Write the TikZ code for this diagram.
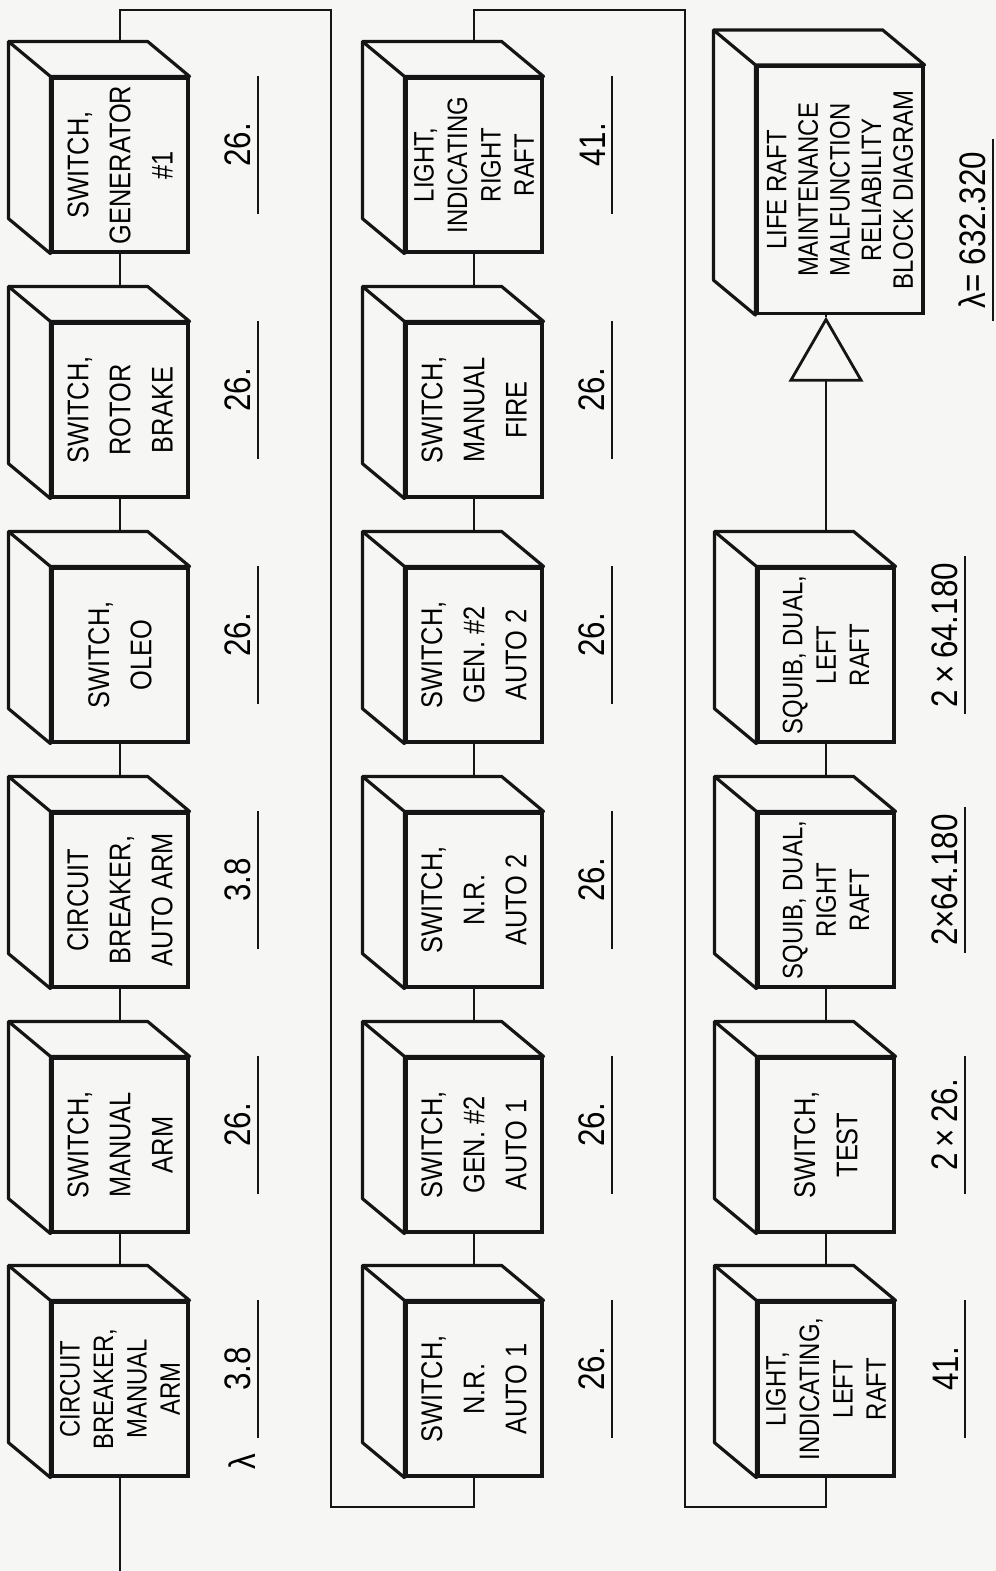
\documentclass[tikz,border=0pt]{standalone}
\usepackage{fontspec}
\setmainfont{Liberation Sans}[FakeStretch=0.85]
\usepackage{tikz}
\usetikzlibrary{calc,backgrounds,shapes.geometric}
\definecolor{paper}{HTML}{F6F6F4}
\definecolor{ink}{HTML}{151515}

\begin{document}
\begin{tikzpicture}[x=0.1mm,y=-0.1mm,
  font=\fontsize{8.5}{12}\selectfont,
  blk/.style={draw=ink,line width=0.9pt,fill=paper,rotate=90,align=center,
    minimum width=17.4mm,minimum height=13.6mm,inner sep=0.5mm},
  tight/.style={font=\fontsize{8}{9.5}\selectfont},
  side/.style={draw=ink,line width=0.9pt,fill=paper,line join=round},
  gate/.style={draw=ink,line width=0.8pt,fill=paper,regular polygon,
    regular polygon sides=3,minimum size=8.1mm,inner sep=0pt},
  wire/.style={draw=ink,line width=0.7pt},
  val/.style={rotate=90,anchor=south,minimum width=13.7mm,inner sep=0.6mm,
    font=\fontsize{10.5}{12}\selectfont},
  uline/.style={draw=ink,line width=0.7pt}]
  \useasboundingbox (0,0) rectangle (996,1571);

  % left column
  \node[blk,tight] (cbm) at (120,1389) {CIRCUIT\\BREAKER,\\MANUAL\\ARM};
  \node[blk] (swm) at (120,1145) {SWITCH,\\MANUAL\\ARM};
  \node[blk] (cba) at (120,900) {CIRCUIT\\BREAKER,\\AUTO ARM};
  \node[blk] (swo) at (120,655) {SWITCH,\\OLEO};
  \node[blk] (swr) at (120,410) {SWITCH,\\ROTOR\\BRAKE};
  \node[blk] (swg) at (120,165) {SWITCH,\\GENERATOR\\\#1};
  % middle column
  \node[blk] (nr1) at (474,1389) {SWITCH,\\N.R.\\AUTO 1};
  \node[blk] (ga1) at (474,1145) {SWITCH,\\GEN. \#2\\AUTO 1};
  \node[blk] (nr2) at (474,900) {SWITCH,\\N.R.\\AUTO 2};
  \node[blk] (ga2) at (474,655) {SWITCH,\\GEN. \#2\\AUTO 2};
  \node[blk] (mfi) at (474,410) {SWITCH,\\MANUAL\\FIRE};
  \node[blk,tight] (lir) at (474,165) {LIGHT,\\INDICATING\\RIGHT\\RAFT};
  % right column
  \node[blk,tight] (lil) at (826,1389) {LIGHT,\\INDICATING,\\LEFT\\RAFT};
  \node[blk] (swt) at (826,1145) {SWITCH,\\TEST};
  \node[blk,tight] (sqr) at (826,900) {SQUIB, DUAL,\\RIGHT\\RAFT};
  \node[blk,tight] (sql) at (826,655) {SQUIB, DUAL,\\LEFT\\RAFT};
  \node[gate] (tri) at (826,360) {};
  \node[blk,minimum width=24.7mm,minimum height=16.6mm,font=\fontsize{8}{9}\selectfont]
    (life) at (840,190) {LIFE RAFT\\MAINTENANCE\\MALFUNCTION\\RELIABILITY\\BLOCK DIAGRAM};

  % box depth
  \foreach \n in {cbm,swm,cba,swo,swr,swg,nr1,ga1,nr2,ga2,mfi,lir,lil,swt,sqr,sql,life}
    \filldraw[side] (\n.north west) -- ++(-42,-35) |- ($(\n.south east)+(-42,-35)$)
      -- (\n.south east) -- (\n.north east) -- cycle
      (\n.north east) -- ++(-42,-35);

  % failure rates
  \node[val] (v1) at (258,1369) {3.8};
  \node[rotate=90,font=\fontsize{10.5}{12}\selectfont] (lam) at (242,1462) {λ};
  \node[val] (v2) at (258,1125) {26.};
  \node[val] (v3) at (258,880) {3.8};
  \node[val] (v4) at (258,635) {26.};
  \node[val] (v5) at (258,390) {26.};
  \node[val] (v6) at (258,145) {26.};
  \node[val] (v7) at (612,1369) {26.};
  \node[val] (v8) at (612,1125) {26.};
  \node[val] (v9) at (612,880) {26.};
  \node[val] (v10) at (612,635) {26.};
  \node[val] (v11) at (612,390) {26.};
  \node[val] (v12) at (612,145) {41.};
  \node[val] (v13) at (965,1369) {41.};
  \node[val] (v14) at (965,1125) {2\,×\,26.};
  \node[val] (v15) at (965,880) {2×64.180};
  \node[val] (v16) at (965,635) {2\,×\,64.180};
  \node[val,minimum width=18mm] (tot) at (993,230) {λ= 632.320};
  \foreach \v in {v1,v2,v3,v4,v5,v6,v7,v8,v9,v10,v11,v12,v13,v14,v15,v16,tot}
    \draw[uline] (\v.south west) -- (\v.south east);

  \draw[wire] (tri.corner 1) -- (tri.corner 1 |- life.west);

  \begin{pgfonlayer}{background}
    \fill[paper] (0,0) rectangle (996,1571);
    \coordinate (in) at (120,1571);
    \coordinate (top) at (0,10);
    \coordinate (bot) at (0,1507);
    \coordinate (ret1) at (331,0);
    \coordinate (ret2) at (685,0);
    \draw[wire] (in) -- (cbm.center) -- (swm.center) -- (cba.center) -- (swo.center)
      -- (swr.center) -- (swg.center) -- (swg |- top) -| (ret1 |- bot) -| (nr1.center)
      -- (ga1.center) -- (nr2.center) -- (ga2.center) -- (mfi.center) -- (lir.center)
      -- (lir |- top) -| (ret2 |- bot) -| (lil.center) -- (swt.center) -- (sqr.center)
      -- (sql.center) -- (tri.center);
  \end{pgfonlayer}
\end{tikzpicture}
\end{document}
